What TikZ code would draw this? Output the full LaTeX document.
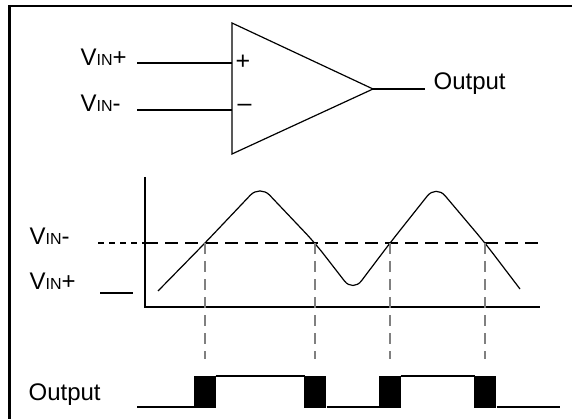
\documentclass[tikz,border=0pt]{standalone}
\usepackage{fontspec}
\setmainfont{Liberation Sans}
\usetikzlibrary{positioning}

\newcommand{\vinlabel}[1]{V{\fontsize{16}{16}\selectfont IN}#1}

\begin{document}
\begin{tikzpicture} [ x=1pt, y=-1pt, line width=1.2pt,
    lbl/.style={font=\fontsize{24}{28}\selectfont, inner sep=0pt, anchor=base west},
    sign/.style={font=\fontsize{25}{28}\selectfont, inner sep=0pt},
    level/.style={dash pattern=on 13pt off 7pt},
    shortlevel/.style={dash pattern=on 6pt off 5pt},
    guide/.style={gray, dash pattern=on 11pt off 7pt},
    pulse/.style={fill=black, draw=black, line width=0.6pt},
  ]
    \useasboundingbox (0,0) rectangle (572,419);
    \draw[line width=2.6pt] (9.5,419) -- (9.5,6) -- (572,6);

    % comparator
    \coordinate (amptop) at (232,23);
    \coordinate (ampbot) at (232,154);
    \coordinate (ampout) at (373,89);
    \coordinate (inplus) at (232,63);
    \coordinate (inminus) at (232,110);
    \draw (amptop) -- (ampout) -- (ampbot) -- cycle;
    \node[lbl] (vinp) at (80,66) {\vinlabel{+}};
    \node[lbl] (vinn) at (80,112) {\vinlabel{-}};
    \node[sign] (plus) at (243,62) {+};
    \node[sign, anchor=base] (minus) at (244.5,112) {--};
    \draw ([xshift=10pt]vinp.east |- inplus) -- (inplus)
    ([xshift=10pt]vinp.east |- inminus) -- (inminus)
    (ampout) -- ++(52,0) coordinate (outend);
    \node[lbl] (outtop) at (433,90) {Output};

    % input levels
    \coordinate (ytop) at (145,177);
    \coordinate (origin) at (145,307);
    \coordinate (xend) at (540,307);
    \draw (ytop) -- (origin) -- (xend);
    \node[lbl] (levn) at (29,245) {\vinlabel{-}};
    \node[lbl] (levp) at (29,290) {\vinlabel{+}};
    \coordinate (lvlstart) at (98,243);
    \coordinate (lvlaxis) at (ytop |- lvlstart);
    \coordinate (lvlend) at (542,243);
    \draw[shortlevel] (lvlstart) -- (lvlaxis);
    \draw[level] (lvlaxis) -- (lvlend);
    \draw (100,293) coordinate (vpa) -- (133,293) coordinate (vpb);

    \coordinate (c1) at (205,243);
    \coordinate (c2) at (315,243);
    \coordinate (c3) at (390,243);
    \coordinate (c4) at (485,243);
    \draw[rounded corners=14pt] (158,291) -- (c1) -- (260,185) -- (c2)
    -- (353,292) -- (c3) -- (436,185) -- (c4) -- (520,289);

    % output pulses
    \coordinate (hi) at (0,376);
    \coordinate (lo) at (0,407);
    \coordinate (guideend) at (0,359);
    \foreach \c in {c1,c2,c3,c4} {
      \draw[guide] (\c) -- (\c |- guideend);
      \draw[pulse] ([xshift=-10.5pt]\c |- hi) rectangle ([xshift=10.5pt]\c |- lo);
    }
    \draw (137,407) -- ([xshift=-10.5pt]c1 |- lo)
    ([xshift=10.5pt]c1 |- hi) -- ([xshift=-10.5pt]c2 |- hi)
    ([xshift=11.5pt]c2 |- lo) -- ([xshift=-10.5pt]c3 |- lo)
    ([xshift=10.5pt]c3 |- hi) -- ([xshift=-10.5pt]c4 |- hi)
    ([xshift=11.5pt]c4 |- lo) -- (560,407);
    \node[lbl] (outbot) at (28,400) {Output};

\end{tikzpicture}
\end{document}
